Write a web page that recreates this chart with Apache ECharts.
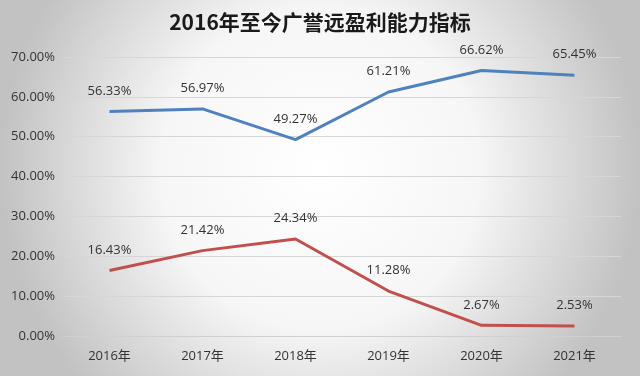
<!DOCTYPE html>
<html>
<head>
<meta charset="utf-8">
<script src="https://cdn.jsdelivr.net/npm/echarts@6/dist/echarts.min.js"></script>
<style>
html,body{margin:0;padding:0;}
#main{width:640px;height:376px;}
</style>
</head>
<body>
<div id="main"></div>
<script>
// 年份
var years = ['2016年', '2017年', '2018年', '2019年', '2020年', '2021年'];
// 两条指标（%）
var blueValues = [56.33, 56.97, 49.27, 61.21, 66.62, 65.45];
var redValues = [16.43, 21.42, 24.34, 11.28, 2.67, 2.53];

var myChart = echarts.init(document.getElementById('main'));
var labelFont = '"Open Sans", "Noto Sans CJK SC", sans-serif';

function pct(p) { return p.value.toFixed(2) + '%'; }

var option = {
    backgroundColor: {
        type: 'radial', x: 0.5, y: 0.45, r: 0.85,
        colorStops: [{offset: 0, color: '#ffffff'}, {offset: 0.5, color: '#f6f6f6'}, {offset: 1, color: '#c2c2c2'}]
    },
    title: {
        text: '2016年至今广誉远盈利能力指标',
        left: 'center',
        top: 7,
        textStyle: {
            fontFamily: '"Noto Sans CJK SC", sans-serif',
            fontSize: 21,
            fontWeight: 'bold',
            color: '#1a1a1a'
        }
    },
    grid: {left: 63, right: 19, top: 57, bottom: 40},
    xAxis: {
        type: 'category',
        data: years,
        boundaryGap: true,
        axisLine: {lineStyle: {color: '#d0d0d0'}},
        axisTick: {show: false},
        axisLabel: {color: '#333', fontSize: 13, fontFamily: labelFont, margin: 14}
    },
    yAxis: {
        type: 'value',
        min: 0, max: 70, interval: 10,
        axisLine: {show: false},
        axisTick: {show: false},
        splitLine: {lineStyle: {color: '#d6d6d6'}},
        axisLabel: {
            color: '#333', fontSize: 13, fontFamily: labelFont, margin: 8,
            formatter: function (v) { return v.toFixed(2) + '%'; }
        }
    },
    series: [{
        type: 'line',
        data: blueValues,
        symbol: 'circle',
        symbolSize: 0,
        lineStyle: {color: '#4f81bd', width: 3},
        itemStyle: {color: '#4f81bd'},
        label: {
            show: true, position: 'top', distance: 14,
            color: '#333', fontSize: 13, fontFamily: labelFont,
            formatter: pct
        }
    }, {
        type: 'line',
        data: redValues,
        symbol: 'circle',
        symbolSize: 0,
        lineStyle: {color: '#c0504d', width: 3},
        itemStyle: {color: '#c0504d'},
        label: {
            show: true, position: 'top', distance: 14,
            color: '#333', fontSize: 13, fontFamily: labelFont,
            formatter: pct
        }
    }]
};
myChart.setOption(option);
</script>
</body>
</html>
